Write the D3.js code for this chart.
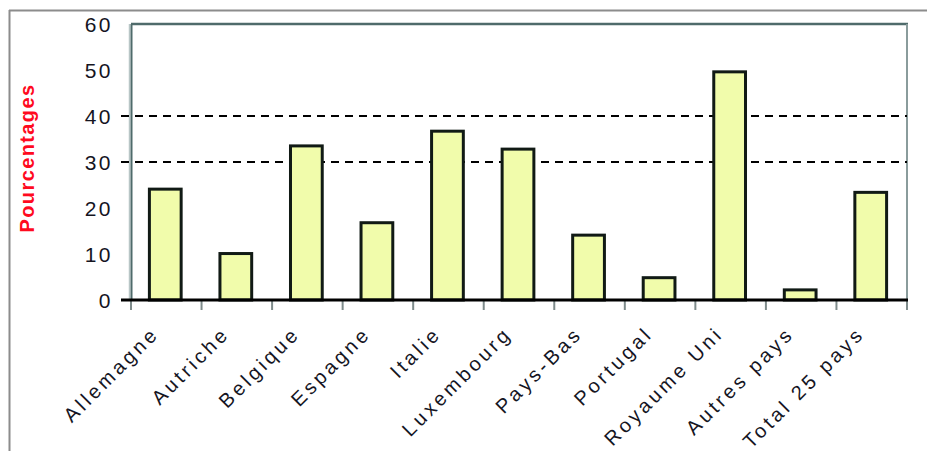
<!DOCTYPE html>
<html>
<head>
<meta charset="utf-8">
<script src="https://cdn.jsdelivr.net/npm/d3@7/dist/d3.min.js"></script>
<style>
  html, body { margin: 0; padding: 0; background: #fff; }
  svg { display: block; }
  text { font-family: "Liberation Sans", Arial, sans-serif; }
</style>
</head>
<body>
<svg id="chart" width="927" height="451"></svg>
<script>
// Part of each group (%)
const categories = ["Allemagne", "Autriche", "Belgique", "Espagne", "Italie", "Luxembourg",
                    "Pays-Bas", "Portugal", "Royaume Uni", "Autres pays", "Total 25 pays"];
const values = [24.1, 10.1, 33.5, 16.8, 36.7, 32.8, 14.1, 4.85, 49.6, 2.2, 23.4];
const yTicks = [0, 10, 20, 30, 40, 50, 60];
const gridValues = [30, 40];
const yTitle = "Pourcentages";

const svg = d3.select("#chart");
const plot = { left: 131, right: 907, top: 24, bottom: 300 };

const x = d3.scaleBand().domain(categories).range([plot.left, plot.right]).padding(0);
const y = d3.scaleLinear().domain([0, 60]).range([plot.bottom, plot.top]);

// outer frame
svg.append("line").attr("x1", 9).attr("x2", 927).attr("y1", 10.5).attr("y2", 10.5)
  .attr("stroke", "#8c8c8c").attr("stroke-width", 2);
svg.append("line").attr("x1", 9.5).attr("x2", 9.5).attr("y1", 10).attr("y2", 451)
  .attr("stroke", "#8c8c8c").attr("stroke-width", 2);

// plot frame: top, left, right
svg.append("line").attr("x1", plot.left).attr("x2", plot.right + 1).attr("y1", plot.top).attr("y2", plot.top)
  .attr("stroke", "#4f6b6b").attr("stroke-width", 2.5);
svg.append("line").attr("x1", plot.left - 1.5).attr("x2", plot.left - 1.5).attr("y1", plot.top).attr("y2", plot.bottom)
  .attr("stroke", "#b8c6c6").attr("stroke-width", 1.5);
svg.append("line").attr("x1", plot.left + 0.5).attr("x2", plot.left + 0.5).attr("y1", plot.top).attr("y2", plot.bottom)
  .attr("stroke", "#4f6b6b").attr("stroke-width", 2);
svg.append("line").attr("x1", plot.right).attr("x2", plot.right).attr("y1", plot.top).attr("y2", plot.bottom)
  .attr("stroke", "#8a9c9c").attr("stroke-width", 2);

// dashed gridlines
svg.append("g").selectAll("line").data(gridValues).join("line")
  .attr("x1", plot.left - 10).attr("x2", plot.right)
  .attr("y1", d => y(d)).attr("y2", d => y(d))
  .attr("stroke", "#000").attr("stroke-width", 2)
  .attr("stroke-dasharray", "8,6");

// bars
const barW = x.bandwidth() * 0.45;
svg.append("g").selectAll("rect").data(values).join("rect")
  .attr("x", (d, i) => x(categories[i]) + (x.bandwidth() - barW) / 2 - 1)
  .attr("y", d => y(d))
  .attr("width", barW)
  .attr("height", d => y(0) - y(d))
  .attr("fill", "#f1fcab")
  .attr("stroke", "#111a15")
  .attr("stroke-width", 3);

// category ticks below the axis
const bounds = categories.map(c => x(c)).concat([plot.right]);
svg.append("g").selectAll("line").data(bounds).join("line")
  .attr("x1", d => d).attr("x2", d => d)
  .attr("y1", plot.bottom).attr("y2", plot.bottom + 10)
  .attr("stroke", "#7f8c8c").attr("stroke-width", 2);

// x axis line
svg.append("line").attr("x1", plot.left - 10).attr("x2", plot.right + 1)
  .attr("y1", y(0)).attr("y2", y(0))
  .attr("stroke", "#000").attr("stroke-width", 3);

// y tick labels
svg.append("g").selectAll("text").data(yTicks).join("text")
  .attr("x", 113).attr("y", d => y(d)).attr("dy", "0.36em")
  .attr("text-anchor", "end")
  .attr("font-size", 21).attr("letter-spacing", 2.5)
  .attr("fill", "#15151f")
  .text(d => d);

// y title
svg.append("text")
  .attr("transform", "translate(34,158) rotate(-90)")
  .attr("text-anchor", "middle")
  .attr("font-size", 20).attr("font-weight", "bold").attr("letter-spacing", 1.4)
  .attr("fill", "#ff0a1e")
  .text(yTitle);

// x category labels, slanted
svg.append("g").selectAll("text").data(categories).join("text")
  .attr("transform", c => `translate(${x(c) + x.bandwidth() / 2 - 6},335) rotate(-45)`)
  .attr("text-anchor", "end")
  .attr("font-size", 20).attr("letter-spacing", 3.4)
  .attr("fill", "#15151f")
  .text(c => c);
</script>
</body>
</html>
